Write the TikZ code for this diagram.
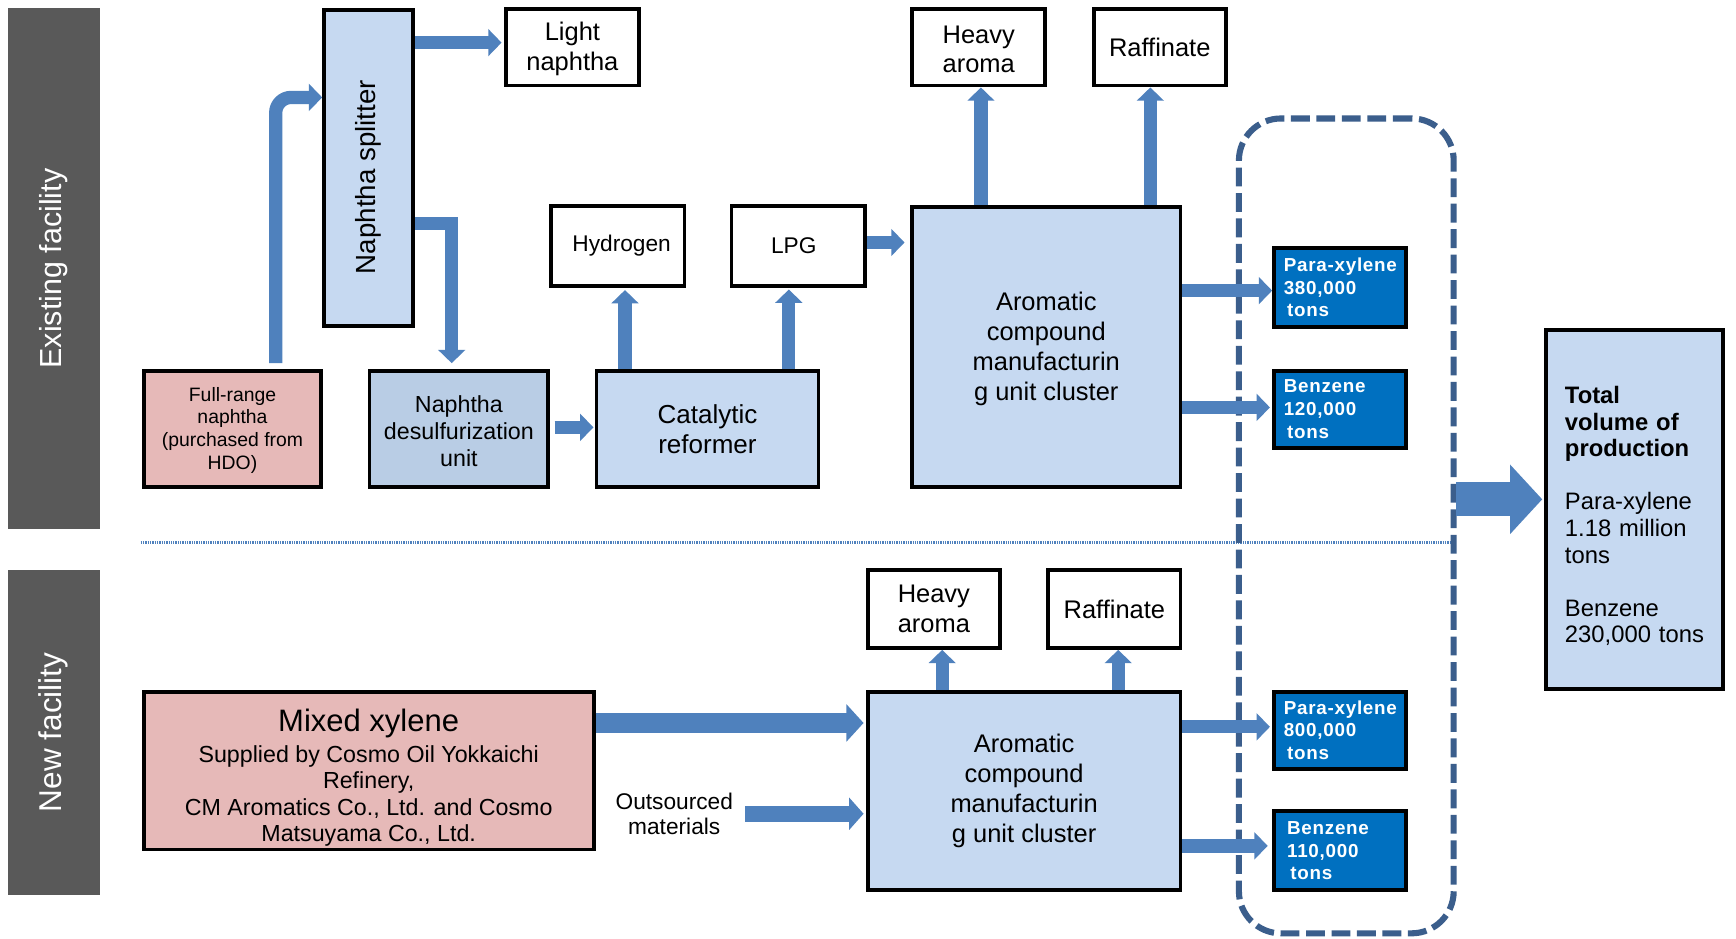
\documentclass[tikz,border=0pt]{standalone}
\usepackage{fontspec}
\usepackage{graphicx}
\setmainfont{Liberation Sans}
\newfontfamily\bluefont[LetterSpace=4]{Liberation Sans}
\usetikzlibrary{arrows.meta,calc}
\definecolor{greybar}{HTML}{595959}
\definecolor{lblue}{HTML}{C6D9F1}
\definecolor{mblue}{HTML}{B9CDE5}
\definecolor{pinkf}{HTML}{E6B9B8}
\definecolor{dblue}{HTML}{0070C0}
\definecolor{ablue}{HTML}{4F81BD}
\definecolor{dashblue}{HTML}{3B5E8C}
\newcommand{\myfs}[2]{\fontsize{#1}{#2}\selectfont}
\begin{document}
\begin{tikzpicture}[x=1pt,y=-1pt,
  box/.style={draw=black, line width=3.5pt, inner sep=0pt, align=center, text=black},
  wbox/.style={box, fill=white},
  bbox/.style={box, fill=dblue, text=white, align=left, text width=102pt, font=\bluefont\myfs{17}{20.5}\bfseries},
  bar/.style={fill=greybar, inner sep=0pt, text=white},
  flow/.style={draw=ablue, line width=12pt, -{Triangle[width=24pt,length=12pt]}},
  flowm/.style={draw=ablue, line width=14pt, -{Triangle[width=28.5pt,length=13pt]}},
  flowl/.style={draw=ablue, line width=18pt, -{Triangle[width=33pt,length=15.5pt]}},
  flowxl/.style={draw=ablue, line width=31pt, -{Triangle[width=61pt,length=29pt]}},
  group/.style={draw=dashblue, line width=5.5pt, dash pattern=on 17pt off 6pt, rounded corners=38pt, inner sep=0pt, outer sep=0pt},
  divider/.style={draw=ablue, line width=2pt, dash pattern=on 1.2pt off 0.9pt},
]
\useasboundingbox[fill=white] (0,0) rectangle (1568,848);

% side bars
\node[bar, minimum width=83pt, minimum height=471pt] (exist) at (48.5,242.5) {\myfs{27.5}{30}\rotatebox{90}{Existing facility}};
\node[bar, minimum width=83pt, minimum height=293pt] (newf) at (48.5,661.5) {\myfs{28.5}{30}\rotatebox{90}{New facility}};

% divider
\coordinate (dl) at (127,490);
\coordinate (dr) at (1310,490);
\draw[divider] (dl) -- (dr);

% dashed product group
\node[group, minimum width=194pt, minimum height=736pt] (grp) at (1216,475) {};

% existing facility
\node[box, fill=lblue, minimum width=80.5pt, minimum height=285.5pt, font=\myfs{25}{28}] (splitter) at (333,151.5) {\rotatebox{90}{Naphtha splitter\hspace*{17pt}}};
\node[wbox, minimum width=120.5pt, minimum height=69.5pt, font=\myfs{23}{27}] (light) at (517,42.5) {\rule{0pt}{20pt}Light\\naphtha};
\node[box, fill=pinkf, minimum width=160.5pt, minimum height=105.5pt, font=\myfs{17.5}{20.5}] (fullrange) at (210,387.5) {\rule{0pt}{15pt}Full-range\\naphtha\\(purchased from\\HDO)};
\node[box, fill=mblue, minimum width=161.5pt, minimum height=105.5pt, font=\myfs{21}{24.5}] (desulf) at (414.5,387.5) {\rule{0pt}{19pt}Naphtha\\desulfurization\\unit};
\node[box, fill=lblue, minimum width=200.5pt, minimum height=105.5pt, font=\myfs{23.5}{27}] (cat) at (639,387.5) {Catalytic\\reformer};
\node[wbox, minimum width=120.5pt, minimum height=72.5pt, font=\myfs{20.5}{24}] (hydrogen) at (558,222) {\hspace*{7pt}Hydrogen};
\node[wbox, minimum width=120.5pt, minimum height=72.5pt, font=\myfs{20.5}{24}] (lpg) at (721,222) {LPG\hspace*{8pt}};
\node[box, fill=lblue, minimum width=242.5pt, minimum height=253.5pt, font=\myfs{23}{27}] (arom1) at (945,313.5) {\rule{0pt}{20pt}Aromatic\\compound\\manufacturin\\g unit cluster};
\node[wbox, minimum width=120.5pt, minimum height=69.5pt, font=\myfs{23}{27}] (heavy1) at (884,42.5) {\rule{0pt}{20pt}Heavy\\aroma};
\node[wbox, minimum width=119.5pt, minimum height=69.5pt, font=\myfs{23}{27}] (raff1) at (1047.5,42.5) {Raffinate};
\node[bbox, minimum width=119.5pt, minimum height=71.5pt] (px1) at (1210.5,259.5) {Para-xylene\\380,000\\\hspace*{3pt}tons};
\node[bbox, minimum width=119.5pt, minimum height=69.5pt] (bz1) at (1210.5,369.5) {Benzene\\120,000\\\hspace*{3pt}tons};

% total
\node[box, fill=lblue, minimum width=159.5pt, minimum height=324.5pt, align=left, text width=126pt, font=\myfs{21.5}{24}] (total) at (1476.5,460) {\rule{0pt}{28pt}\textbf{Total}\\\textbf{volume of}\\\textbf{production}\\[24pt]Para-xylene\\1.18 million\\tons\\[24pt]Benzene\\230,000 tons};

% new facility
\node[box, fill=pinkf, minimum width=406.5pt, minimum height=142.5pt, font=\myfs{21}{24}] (mixed) at (333,696) {\rule{0pt}{33pt}{\myfs{28}{28}Mixed xylene}\\[4pt]Supplied by Cosmo Oil Yokkaichi\\Refinery,\\CM Aromatics Co., Ltd. and Cosmo\\Matsuyama Co., Ltd.};
\node[inner sep=0pt, align=center, font=\myfs{20.5}{23}] (outs) at (609,735) {Outsourced\\materials};
\node[box, fill=lblue, minimum width=282.5pt, minimum height=179.5pt, font=\myfs{23}{27}] (arom2) at (925,714.5) {Aromatic\\compound\\manufacturin\\g unit cluster};
\node[wbox, minimum width=119.5pt, minimum height=70.5pt, font=\myfs{23}{27}] (heavy2) at (843.5,550) {Heavy\\aroma};
\node[wbox, minimum width=119.5pt, minimum height=70.5pt, font=\myfs{23}{27}] (raff2) at (1006.5,550) {Raffinate};
\node[bbox, minimum width=119.5pt, minimum height=69.5pt] (px2) at (1210.5,659.5) {Para-xylene\\800,000\\\hspace*{3pt}tons};
\node[bbox, minimum width=119.5pt, minimum height=71.5pt] (bz2) at (1210.5,768.5) {\hspace*{3pt}Benzene\\\hspace*{3pt}110,000\\\hspace*{6pt}tons};

% flows, existing
\draw[flow, rounded corners=14pt] ($(fullrange.north)+(39,-5)$) |- ($(splitter.west)+(0,-63.5)$);
\draw[flow] ($(splitter.east)+(0,-113)$) -- ($(splitter.east -| light.west)+(-2,-113)$);
\draw[flow] ($(splitter.east)+(0,50.5)$) -| ($(desulf.north)+(-6.5,-5)$);
\draw[flow] ($(desulf.east)+(4,-1.5)$) -- ($(cat.west)+(-1,-1.5)$);
\draw[flow] ($(cat.north)+(-74.5,0)$) -- ($(hydrogen.south)+(6.5,2)$);
\draw[flow] ($(cat.north)+(73.5,0)$) -- ($(lpg.south)+(-8.5,1.5)$);
\draw[flow] ($(lpg.east)+(0,-3)$) -- ($(lpg.east -| arom1.west)+(-5,-3)$);
\draw[flow] ($(arom1.north -| heavy1.south)+(2,0)$) -- ($(heavy1.south)+(2,0)$);
\draw[flow] ($(arom1.north -| raff1.south)+(-8.5,0)$) -- ($(raff1.south)+(-8.5,0)$);
\draw[flow] ($(arom1.east |- px1.west)+(0,3)$) -- ($(px1.west)+(0,3)$);
\draw[flow] ($(arom1.east |- bz1.west)+(0,-1.5)$) -- ($(bz1.west)+(-2,-1.5)$);

% flows, new
\draw[flowl] ($(mixed.east)+(0,-43)$) -- ($(mixed.east -| arom2.west)+(-2,-43)$);
\draw[flowm] ($(outs.east)+(11,0)$) -- ($(outs.east -| arom2.west)+(-2,0)$);
\draw[flow] ($(arom2.north -| heavy2.south)+(7.5,0)$) -- ($(heavy2.south)+(7.5,0)$);
\draw[flow] ($(arom2.north -| raff2.south)+(3.5,0)$) -- ($(raff2.south)+(3.5,0)$);
\draw[flow] ($(arom2.east |- px2.west)+(0,-3)$) -- ($(px2.west)+(-2,-3)$);
\draw[flow] ($(arom2.east |- bz2.west)+(0,-4.5)$) -- ($(bz2.west)+(-4,-4.5)$);

% total flow
\draw[flowxl] ($(grp.east |- total.west)+(2,-9)$) -- ($(total.west)+(-2,-9)$);
\end{tikzpicture}
\end{document}
